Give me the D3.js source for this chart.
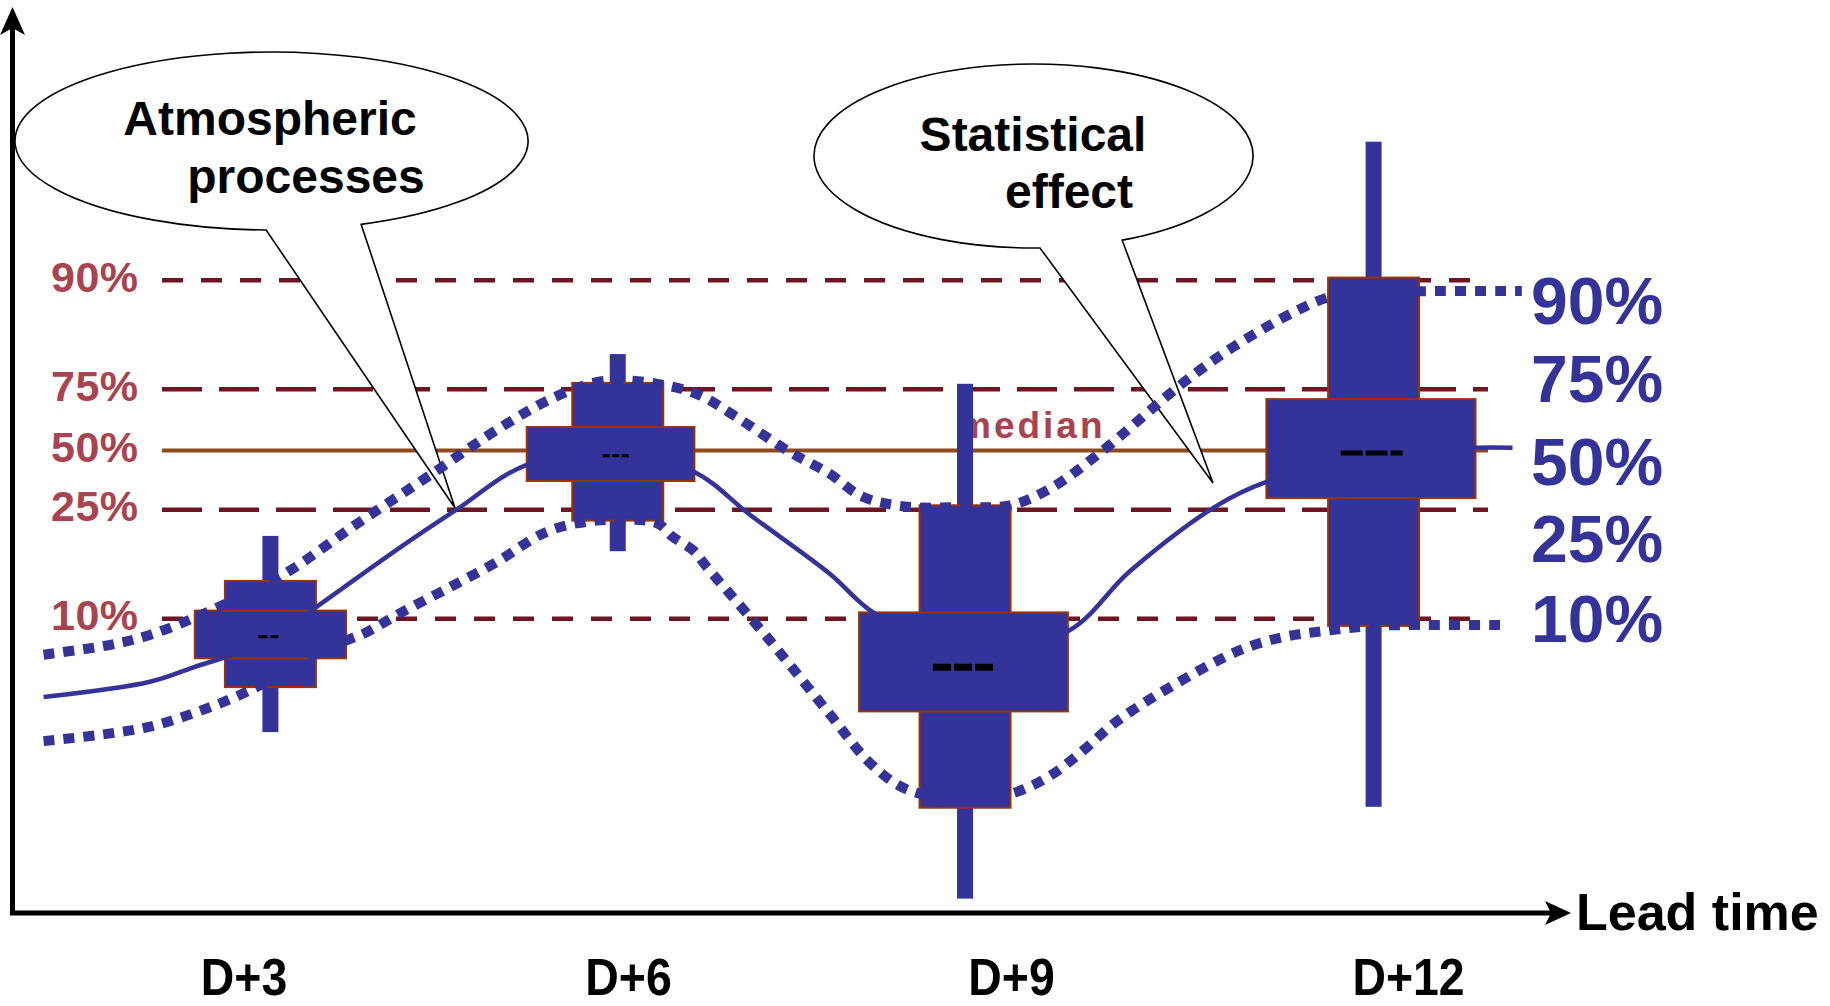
<!DOCTYPE html>
<html>
<head>
<meta charset="utf-8">
<script src="https://cdn.jsdelivr.net/npm/d3@7"></script>
<style>
  html, body { margin: 0; padding: 0; background: #ffffff; }
  svg { display: block; }
</style>
</head>
<body>
<svg id="chart" width="1830" height="1006"></svg>
<script>
// ---------------- DATA (value units: 0 = time axis, 100 = top of the value axis) ----------------
const leadTimeTicks  = [3, 6, 9, 12];
const leadTimeLabels = ["D+3", "D+6", "D+9", "D+12"];

const refPercentiles = ["90%", "75%", "50%", "25%", "10%"];
const refLevels      = [70.3, 58.2, 51.4, 44.8, 32.7];

const rightLabels      = ["90%", "75%", "50%", "25%", "10%"];
const rightLabelLevels = [68.1, 59.4, 50.2, 41.6, 32.7];

// box plots per lead time
const boxLead     = [3.21, 5.92, 8.64, 11.74];
const whiskerHigh = [41.9, 62.1, 58.8, 85.7];
const whiskerLow  = [20.1, 40.2, 1.6, 11.8];
const p90         = [36.9, 58.9, 45.3, 70.6];
const p10         = [25.1, 43.6, 11.7, 31.9];
const p75         = [33.6, 54.0, 33.4, 57.1];
const p25         = [28.3, 48.0, 22.4, 46.1];
const medians     = [30.7, 50.8, 27.3, 51.1];
const quartileFrom = [2.62, 5.21, 7.81, 10.93];   // lead-time days
const quartileTo   = [3.80, 6.52, 9.43, 12.51];

// continuous curves (lead-time days, value)
const medianCurveLead  = [1.44, 2.27, 2.61, 3.21, 3.54, 4.22, 4.65, 5.21, 5.92, 6.52, 6.96, 7.58, 7.92, 8.64, 9.43, 9.90, 10.56, 10.93, 11.74, 12.51, 12.79];
const medianCurveValue = [24.0, 25.7, 27.3, 30.3, 33.7, 40.6, 44.7, 49.8, 51.2, 49.0, 44.2, 37.7, 33.4, 28.7, 31.3, 38.0, 45.3, 47.9, 50.9, 51.7, 51.7];

const upperCurveLead  = [1.44, 1.96, 2.27, 2.76, 3.31, 3.89, 4.46, 5.00, 5.41, 5.73, 5.92, 6.23, 6.55, 6.85, 7.27, 7.58, 7.83, 8.15, 8.64, 8.99, 9.29, 9.67, 10.30, 10.68, 11.13, 11.40, 11.74, 12.17, 12.86];
const upperCurveValue = [28.7, 29.8, 30.9, 33.7, 37.6, 43.3, 48.7, 53.9, 57.2, 58.9, 59.2, 58.8, 57.6, 55.1, 51.2, 48.8, 46.3, 45.2, 45.1, 45.3, 47.1, 51.1, 58.9, 62.9, 66.7, 68.4, 69.0, 69.1, 69.1];

const lowerCurveLead  = [1.44, 1.88, 2.27, 2.61, 2.92, 3.21, 3.65, 3.96, 4.22, 4.61, 5.00, 5.26, 5.41, 5.60, 5.91, 6.23, 6.35, 6.51, 6.62, 7.11, 7.58, 7.90, 8.19, 8.64, 8.99, 9.29, 9.54, 9.80, 10.18, 10.73, 11.07, 11.41, 11.74, 12.09, 12.70];
const lowerCurveValue = [19.1, 19.8, 20.7, 22.2, 23.9, 25.9, 29.4, 31.2, 33.3, 36.2, 39.2, 41.6, 42.6, 43.3, 43.7, 43.3, 41.8, 40.3, 38.4, 30.3, 22.1, 16.6, 13.7, 12.6, 13.2, 15.2, 18.0, 21.3, 24.9, 29.2, 30.7, 31.4, 31.9, 32.0, 32.0];

const calloutTexts = [["Atmospheric", "processes"], ["Statistical", "effect"]];
const axisTitle = "Lead time";
const medianText = "median";

// ---------------- STYLE / LAYOUT ----------------
const W = 1830, H = 1006;
const FONT = "'Liberation Sans', Arial, Helvetica, sans-serif";
const BLUE = "#333399";
const BOX_EDGE = "#993300";
const REF_TEXT = "#a8434f";
const REF_DASH = "#6d1520";
const REF_MEDIAN = "#8f4a1c";

const x = d3.scaleLinear().domain([3, 6, 9, 12]).range([243.5, 628, 1011, 1408]);
const y = d3.scaleLinear().domain([0, 100]).range([913, 13]);

const svg = d3.select("#chart");
svg.append("rect").attr("width", W).attr("height", H).attr("fill", "#ffffff");

// ---------------- reference percentile lines ----------------
const refG = svg.append("g");
const dashFor = i => (i === 2 ? null : (i === 1 || i === 3) ? "40 17" : "21 18");
refPercentiles.forEach((p, i) => {
  refG.append("line")
    .attr("x1", 162).attr("x2", 1488)
    .attr("y1", y(refLevels[i])).attr("y2", y(refLevels[i]))
    .attr("stroke", i === 2 ? REF_MEDIAN : REF_DASH)
    .attr("stroke-width", i === 2 ? 4 : 4.5)
    .attr("stroke-dasharray", dashFor(i));
  refG.append("text")
    .attr("x", 51).attr("y", y(refLevels[i]) - 4).attr("dy", "0.36em")
    .attr("font-family", FONT).attr("font-weight", "bold")
    .attr("font-size", 43).attr("letter-spacing", 0.5).attr("fill", REF_TEXT)
    .text(p);
});
refG.append("text")
  .attr("x", 958).attr("y", y(refLevels[2]) - 12)
  .attr("font-family", FONT).attr("font-weight", "bold")
  .attr("font-size", 37).attr("letter-spacing", 3).attr("fill", REF_TEXT)
  .text(medianText);

// ---------------- callouts ----------------
function callout(cx, cy, rx, ry, a, b, tip) {
  const ang = p => Math.atan2((p[1] - cy) / ry, (p[0] - cx) / rx);
  const pt = t => [cx + rx * Math.cos(t), cy + ry * Math.sin(t)];
  const A = pt(ang(a)), B = pt(ang(b));
  return `M${A[0]},${A[1]} A${rx},${ry} 0 1 1 ${B[0]},${B[1]} L${tip[0]},${tip[1]} Z`;
}
const calloutG = svg.append("g");
const callouts = [
  { cx: 271.5, cy: 141, rx: 256.5, ry: 89, a: [266, 232], b: [364, 227], tip: [455, 508],
    lines: [{ t: calloutTexts[0][0], x: 270, y: 135 }, { t: calloutTexts[0][1], x: 306, y: 193 }] },
  { cx: 1033.5, cy: 156, rx: 219.5, ry: 92, a: [1040, 248], b: [1122, 240], tip: [1213, 483],
    lines: [{ t: calloutTexts[1][0], x: 1033, y: 151 }, { t: calloutTexts[1][1], x: 1069, y: 208 }] }
];
callouts.forEach(c => {
  calloutG.append("path")
    .attr("d", callout(c.cx, c.cy, c.rx, c.ry, c.a, c.b, c.tip))
    .attr("fill", "#ffffff").attr("stroke", "#000").attr("stroke-width", 1.6)
    .attr("stroke-linejoin", "miter");
  c.lines.forEach(l => calloutG.append("text")
    .attr("x", l.x).attr("y", l.y).attr("text-anchor", "middle")
    .attr("font-family", FONT).attr("font-weight", "bold").attr("font-size", 48)
    .attr("fill", "#000").text(l.t));
});

// ---------------- box plots ----------------
const boxG = svg.append("g");
const boxes = boxLead.map((d, i) => ({
  lead: d, wh: whiskerHigh[i], wl: whiskerLow[i], hi: p90[i], lo: p10[i],
  q3: p75[i], q1: p25[i], med: medians[i], from: quartileFrom[i], to: quartileTo[i]
}));
boxG.selectAll(".whisker").data(boxes).join("rect")
  .attr("x", d => x(d.lead) - 8).attr("width", 16)
  .attr("y", d => y(d.wh)).attr("height", d => y(d.wl) - y(d.wh))
  .attr("fill", BLUE);
boxG.selectAll(".outer").data(boxes).join("rect")
  .attr("x", d => x(d.lead) - 45.5).attr("width", 91)
  .attr("y", d => y(d.hi)).attr("height", d => y(d.lo) - y(d.hi))
  .attr("fill", BLUE).attr("stroke", BOX_EDGE).attr("stroke-width", 2);
boxG.selectAll(".inner").data(boxes).join("rect")
  .attr("x", d => x(d.from)).attr("width", d => x(d.to) - x(d.from))
  .attr("y", d => y(d.q3)).attr("height", d => y(d.q1) - y(d.q3))
  .attr("fill", BLUE).attr("stroke", BOX_EDGE).attr("stroke-width", 2);

// ---------------- curves ----------------
const lineGen = d3.line().x(d => x(d[0])).y(d => y(d[1])).curve(d3.curveCatmullRom.alpha(0.5));
const curveG = svg.append("g");
curveG.append("path")
  .attr("d", lineGen(medianCurveLead.map((d, i) => [d, medianCurveValue[i]])))
  .attr("fill", "none").attr("stroke", BLUE).attr("stroke-width", 4.5);
[[upperCurveLead, upperCurveValue], [lowerCurveLead, lowerCurveValue]].forEach(([ls, vs]) => {
  curveG.append("path")
    .attr("d", lineGen(ls.map((d, i) => [d, vs[i]])))
    .attr("fill", "none").attr("stroke", BLUE).attr("stroke-width", 10)
    .attr("stroke-dasharray", "11 9");
});

// median marks (small black dashes inside the boxes)
const markStyle = [
  { h: 10, w: 3, dash: "9 3" },
  { h: 13, w: 3, dash: "7 2.5" },
  { h: 30, w: 7, dash: "18 3" },
  { h: 31, w: 5, dash: "22 3" }
];
svg.append("g").selectAll("line").data(boxes).join("line")
  .attr("x1", (d, i) => x(d.lead) - 2 - markStyle[i].h)
  .attr("x2", (d, i) => x(d.lead) - 2 + markStyle[i].h)
  .attr("y1", d => y(d.med)).attr("y2", d => y(d.med))
  .attr("stroke", "#000").attr("stroke-width", (d, i) => markStyle[i].w)
  .attr("stroke-dasharray", (d, i) => markStyle[i].dash);

// ---------------- right-side percentile labels ----------------
svg.append("g").selectAll("text").data(rightLabels).join("text")
  .attr("x", 1531).attr("y", (d, i) => y(rightLabelLevels[i])).attr("dy", "0.36em")
  .attr("font-family", FONT).attr("font-weight", "bold").attr("font-size", 66)
  .attr("fill", BLUE).text(d => d);

// ---------------- axes ----------------
const axG = svg.append("g");
axG.append("line").attr("x1", 12.5).attr("x2", 12.5).attr("y1", 915).attr("y2", 26)
  .attr("stroke", "#000").attr("stroke-width", 5);
axG.append("path").attr("d", "M12.5,7 L25,35 L12.5,28 L0,35 Z").attr("fill", "#000");
axG.append("line").attr("x1", 10).attr("x2", 1556).attr("y1", 913).attr("y2", 913)
  .attr("stroke", "#000").attr("stroke-width", 5);
axG.append("path").attr("d", "M1571,913 L1545,901 L1551,913 L1545,925 Z").attr("fill", "#000");
axG.append("text").attr("x", 1576).attr("y", 930)
  .attr("font-family", FONT).attr("font-weight", "bold").attr("font-size", 52)
  .attr("fill", "#000").text(axisTitle);

const xAxis = d3.axisBottom(x).tickValues(leadTimeTicks)
  .tickFormat((d, i) => leadTimeLabels[i]).tickSize(0);
const xAxG = svg.append("g").attr("transform", "translate(0,995)").call(xAxis);
xAxG.select(".domain").remove();
xAxG.selectAll("text")
  .attr("y", 0).attr("dy", 0)
  .attr("transform", "scale(0.91,1)")
  .attr("font-family", FONT).attr("font-weight", "bold").attr("font-size", 51)
  .attr("fill", "#000");
</script>
</body>
</html>
